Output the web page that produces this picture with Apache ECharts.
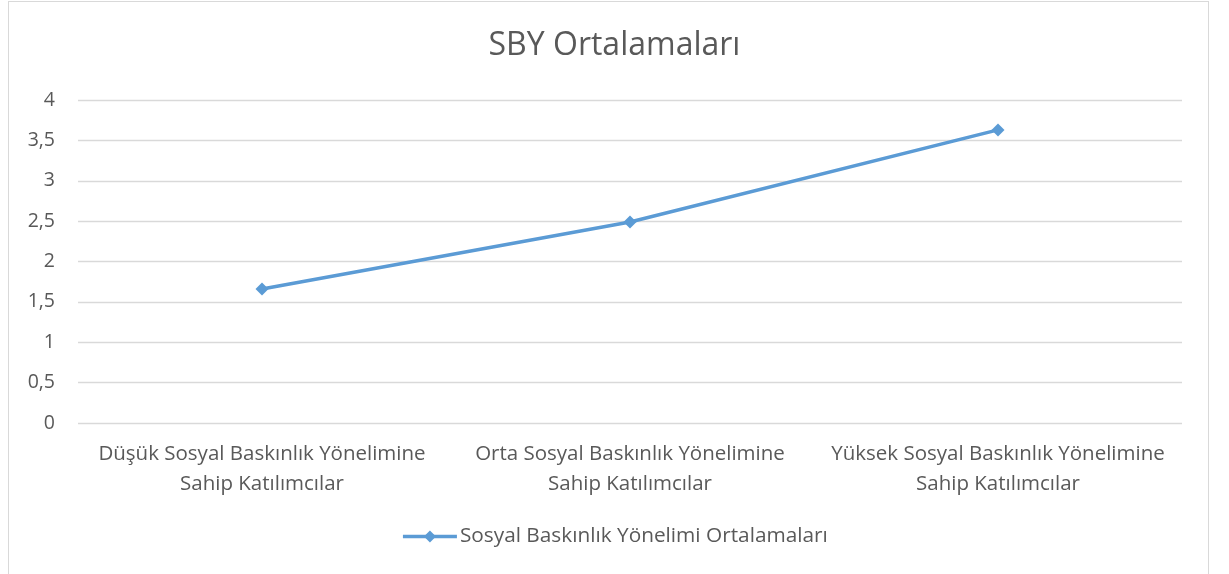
<!DOCTYPE html>
<html><head><meta charset="utf-8">
<script src="https://cdn.jsdelivr.net/npm/echarts@6/dist/echarts.min.js"></script>
<style>
html,body{margin:0;padding:0;background:#fff;}
#frame{position:absolute;left:8px;top:1px;width:1201px;height:600px;border:1px solid #d9d9d9;box-sizing:border-box;}
#c{position:absolute;left:0;top:0;width:1229px;height:574px;}
</style></head>
<body>
<div id="frame"></div>
<div id="c"></div>
<script>
const titleText = "SBY Ortalamaları";
const seriesName = "Sosyal Baskınlık Yönelimi Ortalamaları";
const categories = [
  "Düşük Sosyal Baskınlık Yönelimine\nSahip Katılımcılar",
  "Orta Sosyal Baskınlık Yönelimine\nSahip Katılımcılar",
  "Yüksek Sosyal Baskınlık Yönelimine\nSahip Katılımcılar"
];
const values = [1.66, 2.49, 3.63];
const yMin = 0, yMax = 4, yStep = 0.5;

const FONT = "Open Sans";
const chart = echarts.init(document.getElementById('c'), null, {renderer:'canvas'});
chart.setOption({
  backgroundColor: 'transparent',
  animation: false,
  title: {
    text: titleText, left: 'center', top: 25,
    textStyle: {fontFamily: FONT, fontSize: 32, fontWeight: 'normal', color: '#595959'}
  },
  legend: {
    bottom: 22, left: 'center', itemWidth: 54, itemHeight: 15, itemGap: 6,
    lineStyle: {width: 3.5},
    textStyle: {fontFamily: FONT, fontSize: 20.8, color: '#595959', padding: [0,0,0,-2]},
    data: [seriesName]
  },
  grid: {left: 78, right: 47, top: 100, bottom: 151},
  xAxis: {
    type: 'category', data: categories, boundaryGap: true,
    axisLine: {show: false}, axisTick: {show: false},
    axisLabel: {fontFamily: FONT, fontSize: 20.5, color: '#595959', margin: 16, lineHeight: 30, interval: 0}
  },
  yAxis: {
    type: 'value', min: yMin, max: yMax, interval: yStep,
    axisLine: {show: false}, axisTick: {show: false},
    splitLine: {lineStyle: {color: '#d9d9d9', width: 1.3}},
    axisLabel: {fontFamily: FONT, fontSize: 19.5, color: '#595959', margin: 23,
      formatter: v => String(v).replace('.', ',')}
  },
  series: [{
    name: seriesName, type: 'line', data: values,
    symbol: 'diamond', symbolSize: 13,
    lineStyle: {color: '#5b9bd5', width: 3.5},
    itemStyle: {color: '#5b9bd5'}
  }]
});
</script>
</body></html>
